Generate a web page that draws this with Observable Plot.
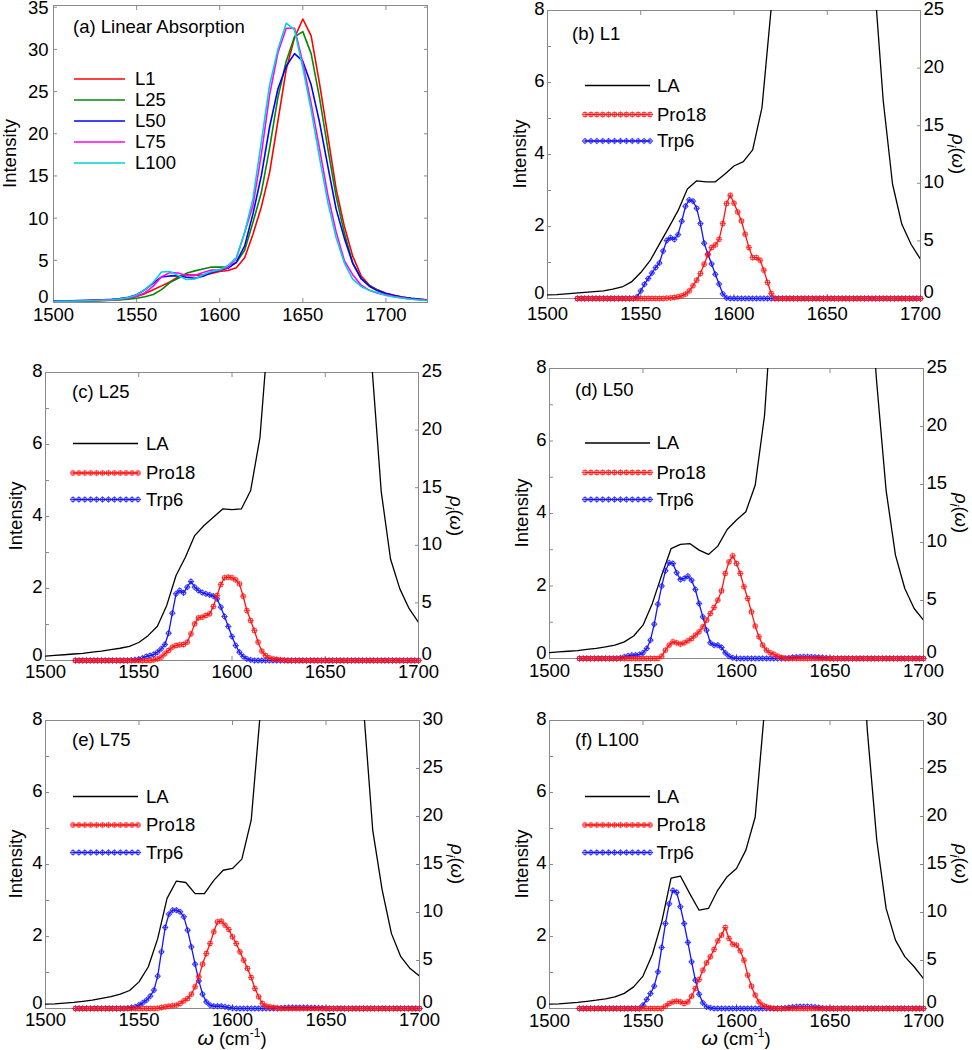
<!DOCTYPE html>
<html><head><meta charset="utf-8">
<script src="https://cdn.jsdelivr.net/npm/d3@7"></script>
<script src="https://cdn.jsdelivr.net/npm/@observablehq/plot@0.6"></script>
<style>
body{margin:0;background:#fff;}
#root{position:relative;width:972px;height:1050px;overflow:hidden;background:#fff;}
#root svg{position:absolute;overflow:visible;}
</style></head><body><div id="root"></div>
<script>
// ---------------- data ----------------
const laOmega = [1500,1505,1510,1515,1520,1525,1530,1535,1540,1545,
  1550,1555,1560,1565,1570,1575,1580,1585,1590,1595,
  1600,1605,1610,1615,1620,1625,1630,1635,1640,1645,
  1650,1655,1660,1665,1670,1675,1680,1685,1690,1695,
  1700,1705,1710,1715,1720,1725];
const laL1 = [0.1,0.11,0.13,0.15,0.17,0.19,0.21,0.26,0.32,0.46,
  0.72,1.05,1.51,1.97,2.44,3.04,3.27,3.24,3.24,3.45,
  3.68,3.8,4.13,5.3,8.1,11.3,15.4,21.5,27.6,31.4,
  33.6,31.6,26.0,19.8,13.5,9.0,5.5,3.18,2.06,1.5,
  1.09,0.85,0.65,0.5,0.4,0.32];
const laL25 = [0.12,0.14,0.16,0.18,0.2,0.23,0.26,0.3,0.34,0.39,
  0.5,0.69,0.95,1.53,2.36,2.87,3.47,3.75,3.98,4.21,
  4.19,4.21,4.72,6.2,9.5,13.0,18.3,24.3,28.6,31.5,
  32.1,29.5,24.3,18.3,12.6,8.2,4.7,2.82,1.99,1.44,
  1.06,0.8,0.62,0.48,0.38,0.3];
const laL50 = [0.16,0.18,0.2,0.22,0.25,0.28,0.32,0.37,0.46,0.62,
  0.92,1.52,2.3,3.03,3.15,3.17,2.99,2.87,3.1,3.56,
  3.82,4.05,4.78,6.71,10.5,15.0,20.8,25.3,28.0,29.5,
  28.6,25.8,21.4,16.2,11.1,7.6,4.64,2.85,1.93,1.38,
  1.06,0.82,0.63,0.49,0.38,0.3];
const laL75 = [0.12,0.13,0.15,0.17,0.2,0.23,0.28,0.33,0.4,0.5,
  0.74,1.16,1.94,3.06,3.54,3.5,3.19,3.19,3.56,3.84,
  3.89,4.15,5.23,8.3,11.5,17.5,24.6,29.6,32.5,32.5,
  28.4,23.6,18.3,12.8,8.4,4.95,3.3,2.08,1.44,1.11,
  0.9,0.7,0.55,0.42,0.33,0.26];
const laL100 = [0.12,0.13,0.15,0.17,0.2,0.23,0.27,0.32,0.42,0.6,
  0.9,1.5,2.4,3.62,3.68,3.19,2.73,2.78,3.29,3.66,
  3.89,4.4,5.32,8.3,12.3,19.0,25.8,30.0,33.1,32.3,
  27.8,22.8,17.2,11.9,7.7,4.68,2.78,1.9,1.44,1.16,
  0.83,0.65,0.5,0.38,0.3,0.24];

const rhoOmega = [1516,1518,1520,1522,1524,1526,1528,1530,1532,1534,
  1536,1538,1540,1542,1544,1546,1548,1550,1552,1554,
  1556,1558,1560,1562,1564,1566,1568,1570,1572,1574,
  1576,1578,1580,1582,1584,1586,1588,1590,1592,1594,
  1596,1598,1600,1602,1604,1606,1608,1610,1612,1614,
  1616,1618,1620,1622,1624,1626,1628,1630,1632,1634,
  1636,1638,1640,1642,1644,1646,1648,1650,1652,1654,
  1656,1658,1660,1662,1664,1666,1668,1670,1672,1674,
  1676,1678,1680,1682,1684,1686,1688,1690,1692,1694,
  1696,1698,1700];

const pro18L1 = [0,0,0,0,0,0,0,0,0,0,
  0,0,0,0,0,0,0,0,0,0,
  0,0,0,0,0.03,0.05,0.09,0.15,0.23,0.38,
  0.66,1.1,1.59,2.17,2.98,3.79,4.42,4.65,5.14,6.5,
  8.24,8.96,8.27,7.51,6.73,5.58,4.42,3.55,3.55,3.32,
  2.46,1.39,0.43,0,0,0,0,0,0,0,
  0,0,0,0,0,0,0,0,0,0,
  0,0,0,0,0,0,0,0,0,0,
  0,0,0,0,0,0,0,0,0,0,
  0,0,0];
const trp6L1 = [0,0,0,0,0,0,0,0,0,0,
  0,0,0,0,0,0,0.14,0.66,1.24,1.73,
  2.21,2.68,3.08,4.12,5.04,5.28,5.13,5.54,6.71,8.01,
  8.56,8.45,7.83,6.5,4.8,3.85,3.0,2.1,1.25,0.4,
  0.05,0,0,0,0,0,0,0,0,0,
  0,0,0,0,0,0,0,0,0,0,
  0,0,0,0,0,0,0,0,0,0,
  0,0,0,0,0,0,0,0,0,0,
  0,0,0,0,0,0,0,0,0,0,
  0,0,0];
const pro18L25 = [0,0,0,0,0,0,0,0,0,0,
  0,0,0,0,0,0,0,0,0,0,
  0,0.05,0.14,0.29,0.58,0.87,1.16,1.3,1.36,1.39,
  1.59,2.31,3.18,3.7,3.76,3.91,4.05,4.69,5.64,6.6,
  7.18,7.23,7.18,7.0,6.65,5.58,4.34,3.47,2.6,1.59,
  0.81,0.43,0.23,0.14,0.09,0.05,0.03,0,0,0,
  0,0,0,0,0,0,0,0,0,0,
  0,0,0,0,0,0,0,0,0,0,
  0,0,0,0,0,0,0,0,0,0,
  0,0,0];
const trp6L25 = [0,0,0,0,0,0,0,0,0,0,
  0,0,0,0,0,0.03,0.06,0.1,0.2,0.35,
  0.43,0.52,0.72,1.01,1.39,2.37,4.11,5.79,6.08,5.87,
  6.37,6.86,6.37,6.08,5.9,5.79,5.7,5.59,5.35,4.63,
  3.82,2.95,2.08,1.3,0.72,0.35,0.14,0.05,0,0,
  0,0,0,0,0,0,0,0,0,0,
  0,0,0,0,0,0,0,0,0,0,
  0,0,0,0,0,0,0,0,0,0,
  0,0,0,0,0,0,0,0,0,0,
  0,0,0];
const pro18L50 = [0,0,0,0,0,0,0,0,0,0,
  0,0,0,0,0,0,0,0,0,0,
  0,0,0.2,0.72,1.15,1.44,1.35,1.24,1.35,1.52,
  1.72,2.01,2.3,2.73,3.3,3.88,4.4,5.03,5.83,7.33,
  8.33,8.85,8.19,7.33,6.18,5.17,4.02,2.79,1.87,1.15,
  0.72,0.49,0.37,0.2,0.09,0.03,0,0,0,0,
  0,0,0,0,0,0,0,0,0,0,
  0,0,0,0,0,0,0,0,0,0,
  0,0,0,0,0,0,0,0,0,0,
  0,0,0];
const trp6L50 = [0,0,0,0,0,0,0,0,0,0,
  0,0.05,0.14,0.23,0.29,0.29,0.34,0.49,0.86,1.58,
  2.96,4.68,6.24,7.56,8.25,8.19,7.39,6.81,6.9,7.1,
  6.75,5.95,4.74,3.59,2.44,1.35,1.15,1.15,0.95,0.49,
  0.2,0.06,0,0,0,0,0,0,0,0,
  0,0,0,0,0,0,0.05,0.1,0.12,0.14,
  0.15,0.15,0.14,0.12,0.1,0.08,0.05,0,0,0,
  0,0,0,0,0,0,0,0,0,0,
  0,0,0,0,0,0,0,0,0,0,
  0,0,0];
const pro18L75 = [0,0,0,0,0,0,0,0,0,0,
  0,0,0,0,0,0,0,0,0,0,
  0,0,0.03,0.1,0.17,0.24,0.28,0.35,0.52,0.8,
  1.04,1.49,2.26,3.3,4.62,5.73,6.77,7.99,9.03,9.1,
  8.68,8.23,7.47,6.77,5.9,5.03,4.17,3.23,2.08,1.22,
  0.52,0.24,0.17,0.1,0.05,0,0,0,0,0,
  0,0,0,0,0,0,0,0,0,0,
  0,0,0,0,0,0,0,0,0,0,
  0,0,0,0,0,0,0,0,0,0,
  0,0,0];
const trp6L75 = [0,0,0,0,0,0,0,0,0,0,
  0,0,0,0,0.03,0.1,0.17,0.35,0.59,0.87,
  1.28,1.91,3.37,5.9,8.44,9.83,10.24,10.24,10.07,9.55,
  8.16,6.42,4.62,2.88,1.49,0.69,0.35,0.24,0.24,0.24,
  0.17,0.1,0.03,0,0,0,0,0,0,0,
  0,0,0,0,0,0.05,0.08,0.1,0.1,0.1,
  0.1,0.1,0.1,0.08,0.08,0.06,0.05,0,0,0,
  0,0,0,0,0,0,0,0,0,0,
  0,0,0,0,0,0,0,0,0,0,
  0,0,0];
const pro18L100 = [0,0,0,0,0,0,0,0,0,0,
  0,0,0,0,0,0,0,0,0,0,
  0,0,0,0.24,0.52,0.69,0.76,0.69,0.52,0.69,
  1.28,2.08,3.02,3.99,4.76,5.38,6.15,7.05,7.64,8.44,
  7.29,6.7,6.6,6.01,5.03,3.47,2.33,1.39,0.69,0.35,
  0.17,0.07,0,0,0,0,0,0,0,0,
  0,0,0,0,0,0,0,0,0,0,
  0,0,0,0,0,0,0,0,0,0,
  0,0,0,0,0,0,0,0,0,0,
  0,0,0];
const trp6L100 = [0,0,0,0,0,0,0,0,0,0,
  0,0,0,0,0,0,0,0.35,0.94,1.56,
  2.33,3.82,6.35,8.85,10.9,12.3,12.1,10.6,8.85,6.88,
  4.86,2.95,1.49,0.59,0.17,0.07,0,0,0,0,
  0,0,0,0,0,0,0,0,0,0,
  0,0,0,0,0,0.05,0.1,0.15,0.18,0.2,
  0.2,0.2,0.18,0.15,0.1,0.05,0,0,0,0,
  0,0,0,0,0,0,0,0,0,0,
  0,0,0,0,0,0,0,0,0,0,
  0,0,0];

const sampleNames = ["L1","L25","L50","L75","L100"];
const xTicks = [1500,1550,1600,1650,1700];
const yTicksA = [0,5,10,15,20,25,30,35];
const yTicksLeft = [0,2,4,6,8];
const yMinorLeft = [0,1,2,3,4,5,6,7,8];
const rhoTicks25 = [0,5,10,15,20,25];
const rhoTicks30 = [0,5,10,15,20,25,30];

// ---------------- style ----------------
const FONT = '"Liberation Sans", Arial, Helvetica, sans-serif';
const FS = 18.5;
const GRAY = "#8a8a8a";
const RED = "#ff1414";
const BLUE = "#1414ff";
const sampleColors = ["#ff0000","#008a00","#0000ff","#ff00ff","#00d4d4"];

const root = document.getElementById("root");

function addPanel(p) {
  const [fl, ft, fr, fb] = p.frame;
  const mL = 70, mR = 70, mT = 20, mB = 50;
  const fw = fr - fl, fh = fb - ft;
  const marks = [];
  // inward tick marks (gray)
  marks.push(Plot.axisX({ticks: xTicks, anchor: "bottom", tickSize: -4, stroke: GRAY, fill: "none", label: null}));
  marks.push(Plot.axisX({ticks: xTicks, anchor: "top", tickSize: -4, stroke: GRAY, fill: "none", label: null}));
  marks.push(Plot.axisY({ticks: p.leftMinor, anchor: "left", tickSize: -4, stroke: GRAY, fill: "none", label: null}));
  marks.push(Plot.axisY({ticks: p.rightTickPos, anchor: "right", tickSize: -4, stroke: GRAY, fill: "none", label: null}));
  marks.push(Plot.frame({stroke: GRAY, strokeWidth: 1}));
  // tick labels
  marks.push(Plot.axisX({ticks: xTicks, anchor: "bottom", tickSize: 0, tickPadding: p.xPad, tickFormat: d => String(d), label: null}));
  marks.push(Plot.axisY({ticks: p.leftLabels.filter(v => v !== 0), anchor: "left", tickSize: 0, tickPadding: p.yPad, dy: p.labDy, tickFormat: d => String(d), label: null}));
  marks.push(Plot.axisY({ticks: [0], anchor: "left", tickSize: 0, tickPadding: p.yPad, dy: -5, tickFormat: d => String(d), label: null}));
  if (p.rhoK) {
    const k = p.rhoK;
    marks.push(Plot.axisY({ticks: p.rhoTicks.filter(v => v !== 0).map(v => v / k), anchor: "right", tickSize: 0, tickPadding: 3, dy: p.labDy, tickFormat: d => String(Math.round(d * k)), label: null}));
    marks.push(Plot.axisY({ticks: [0], anchor: "right", tickSize: 0, tickPadding: 3, dy: -6, tickFormat: d => "0", label: null}));
  }
  marks.push(...p.dataMarks);

  const svg = Plot.plot({
    width: fw + mL + mR, height: fh + mT + mB,
    marginLeft: mL, marginRight: mR, marginTop: mT, marginBottom: mB,
    x: {domain: p.xDomain, label: null},
    y: {domain: p.yDomain, label: null},
    style: {fontFamily: FONT, fontSize: FS + "px", background: "transparent", overflow: "visible", color: "black"},
    marks
  });
  svg.style.position = "absolute";
  svg.style.left = (fl - mL) + "px";
  svg.style.top = (ft - mT) + "px";
  root.appendChild(svg);

  const g = d3.select(svg).append("g").attr("transform", `translate(${mL},${mT})`)
    .attr("font-family", FONT).attr("font-size", FS).attr("fill", "black").attr("text-anchor", "start");
  // y label
  g.append("text").attr("transform", `translate(${-p.ylabOff},${fh / 2}) rotate(-90)`)
    .attr("text-anchor", "middle").attr("dy", "0.35em").text("Intensity");
  // title
  g.append("text").attr("x", p.title[1]).attr("y", p.title[2]).attr("dy", "0.35em")
    .attr("text-anchor", "start").text(p.title[0]);
  // right label
  if (p.rhoK) {
    const t = g.append("text").attr("transform", `translate(${fw + 38},${fh / 2}) rotate(90)`)
      .attr("text-anchor", "middle").attr("dy", "0.35em");
    t.append("tspan").attr("font-style", "italic").text("ρ");
    t.append("tspan").attr("font-style", "italic").attr("font-size", 13).attr("dy", 5).text("i");
    t.append("tspan").attr("dy", -5).text("(");
    t.append("tspan").attr("font-style", "italic").text("ω");
    t.append("tspan").text(")");
  }
  if (p.xTitle) {
    const t = g.append("text").attr("x", fw / 2).attr("y", fh + 31).attr("text-anchor", "middle").attr("dy", "0.35em");
    t.append("tspan").attr("font-style", "italic").attr("font-size", 21).text("ω");
    t.append("tspan").text(" (cm");
    t.append("tspan").attr("font-size", 12).attr("dy", -8).text("-1");
    t.append("tspan").attr("dy", 8).text(")");
  }
  // legend
  const L = p.legend;
  L.rows.forEach((row, i) => {
    const y = L.ys[i];
    g.append("line").attr("x1", L.x0).attr("x2", L.x1).attr("y1", y).attr("y2", y)
      .attr("stroke", row.color).attr("stroke-width", row.sw || 1.3);
    if (row.sym) {
      const n = 12;
      for (let j = 0; j < n; j++) {
        const x = L.x0 + (L.x1 - L.x0) * j / (n - 1);
        g.append("path").attr("transform", `translate(${x},${y})`)
          .attr("d", d3.symbol(row.sym === "square" ? d3.symbolSquare : d3.symbolCircle, Math.PI * 2.2 * 2.2)())
          .attr("fill", "none").attr("stroke", row.color).attr("stroke-width", 0.8);
        g.append("path").attr("transform", `translate(${x},${y})`)
          .attr("d", d3.symbol(d3.symbolPlus, Math.PI * 2.2 * 2.2)())
          .attr("fill", "none").attr("stroke", row.color).attr("stroke-width", 0.7);
      }
    }
    g.append("text").attr("x", L.tx).attr("y", y).attr("dy", "0.35em").attr("text-anchor", "start").text(row.name);
  });
}

// ---------- panel (a) ----------
const seriesA = [laL1, laL25, laL50, laL75, laL100];
const tableA = seriesA.map(vals => laOmega.map((w, i) => ({w, v: vals[i]})));
addPanel({
  frame: [53, 5, 427, 302],
  xDomain: [1500, 1725], yDomain: [0, 35.2],
  leftMinor: yTicksA, leftLabels: yTicksA, rightTickPos: yTicksA,
  xPad: 5, yPad: 5, ylabOff: 43.5, labDy: 0.5,
  title: ["(a) Linear Absorption", 20, 22],
  legend: {x0: 21, x1: 72, tx: 82, ys: [74, 95, 116, 137, 158],
    rows: sampleNames.map((n, i) => ({name: n, color: sampleColors[i], sw: 1.6}))},
  dataMarks: tableA.map((t, i) => Plot.line(t, {x: "w", y: "v", stroke: sampleColors[i], strokeWidth: 1.6, clip: true}))
});

// ---------- panels (b)-(f) ----------
function rhoPanel(cfg) {
  const k = cfg.k;
  const la = laOmega.map((w, i) => ({w, v: cfg.la[i]}));
  const rho = rhoOmega.map((w, i) => ({w, pro: cfg.pro[i] / k, trp: cfg.trp[i] / k}));
  const r = 2.2;
  const dataMarks = [
    Plot.line(la, {x: "w", y: "v", stroke: "black", strokeWidth: 1.3, clip: true}),
    Plot.line(rho, {x: "w", y: "trp", stroke: BLUE, strokeWidth: 1.3}),
    Plot.dot(rho, {x: "w", y: "trp", symbol: "circle", r, stroke: BLUE, fill: "none", strokeWidth: 0.8}),
    Plot.dot(rho, {x: "w", y: "trp", symbol: "plus", r, stroke: BLUE, strokeWidth: 0.7}),
    Plot.line(rho, {x: "w", y: "pro", stroke: RED, strokeWidth: 1.3}),
    Plot.dot(rho, {x: "w", y: "pro", symbol: "square", r, stroke: RED, fill: "none", strokeWidth: 0.8}),
    Plot.dot(rho, {x: "w", y: "pro", symbol: "plus", r, stroke: RED, strokeWidth: 0.7})
  ];
  addPanel({
    frame: cfg.frame,
    xDomain: [1500, 1700], yDomain: [0, 8],
    leftMinor: yMinorLeft, leftLabels: yTicksLeft,
    rightTickPos: cfg.rhoTicks.map(v => v / k),
    rhoK: k, rhoTicks: cfg.rhoTicks,
    xPad: cfg.xPad, yPad: 3, ylabOff: cfg.ylabOff, labDy: -1,
    title: cfg.title, xTitle: cfg.xTitle,
    legend: {x0: cfg.leg[0], x1: cfg.leg[1], tx: cfg.leg[2], ys: cfg.legY,
      rows: [{name: "LA", color: "black"}, {name: "Pro18", color: RED, sym: "square"}, {name: "Trp6", color: BLUE, sym: "circle"}]},
    dataMarks
  });
}

rhoPanel({frame: [547, 10, 920, 298], la: laL1, pro: pro18L1, trp: trp6L1, k: 25 / 8, rhoTicks: rhoTicks25,
  xPad: 8, ylabOff: 27, title: ["(b) L1", 25, 23.5], leg: [38, 103, 110], legY: [75.5, 104.5, 131]});
rhoPanel({frame: [45, 372, 418, 660], la: laL25, pro: pro18L25, trp: trp6L25, k: 25 / 8, rhoTicks: rhoTicks25,
  xPad: 4, ylabOff: 29, title: ["(c) L25", 27, 20], leg: [28, 93, 101], legY: [71.5, 101, 127.5]});
rhoPanel({frame: [549, 368, 923, 658], la: laL50, pro: pro18L50, trp: trp6L50, k: 25 / 8, rhoTicks: rhoTicks25,
  xPad: 5, ylabOff: 27.5, title: ["(d) L50", 26, 22], leg: [36, 101, 107.5], legY: [75, 104.5, 131.5]});
rhoPanel({frame: [45, 720, 419, 1008], la: laL75, pro: pro18L75, trp: trp6L75, k: 30 / 8, rhoTicks: rhoTicks30,
  xPad: 4.5, ylabOff: 29, title: ["(e) L75", 27, 19.5], leg: [28, 93, 101], legY: [76.5, 105, 132.5], xTitle: true});
rhoPanel({frame: [549, 720, 923, 1008], la: laL100, pro: pro18L100, trp: trp6L100, k: 30 / 8, rhoTicks: rhoTicks30,
  xPad: 5, ylabOff: 27.5, title: ["(f) L100", 26, 19.5], leg: [36, 101, 107.5], legY: [76.5, 105, 132.5], xTitle: true});
</script>
</body></html>
